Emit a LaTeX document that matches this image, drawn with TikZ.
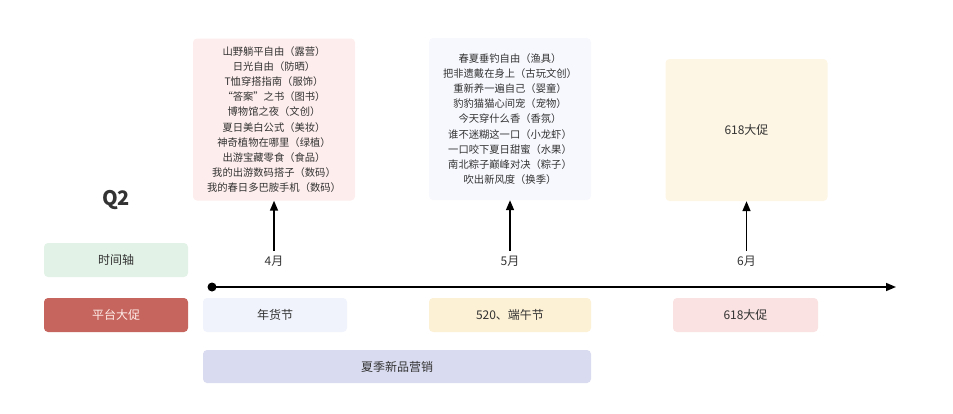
\documentclass[tikz,border=0pt]{standalone}
\usepackage{fontspec}
\setmainfont{Noto Sans CJK SC}
\usetikzlibrary{arrows.meta,positioning}
\definecolor{inkgray}{RGB}{51,51,51}
\definecolor{axisgreen}{RGB}{226,242,230}
\definecolor{promored}{RGB}{197,101,94}
\definecolor{promotext}{RGB}{255,236,232}
\definecolor{festblue}{RGB}{240,243,251}
\definecolor{festcream}{RGB}{253,241,213}
\definecolor{festpink}{RGB}{249,226,225}
\definecolor{summerblue}{RGB}{217,220,240}
\definecolor{aprpink}{RGB}{253,237,236}
\definecolor{maywhite}{RGB}{247,248,254}
\definecolor{junecream}{RGB}{254,246,228}

\begin{document}
\begin{tikzpicture}[
  x=1pt, y=-1pt,
  block/.style={rectangle, rounded corners=4pt, align=center, inner sep=0pt,
    text=inkgray, font=\fontsize{12}{14}\selectfont},
  listbox/.style={block, minimum width=162pt, minimum height=162pt,
    font=\fontsize{10.3}{15.2}\selectfont},
  tag/.style={block, minimum width=144pt, minimum height=34pt},
  month/.style={font=\fontsize{12}{14}\selectfont, text=inkgray, inner sep=1pt,
    minimum height=20pt},
  arrow/.style={-{Triangle[width=8pt,length=10pt]}, line width=1.6pt}
]
  \useasboundingbox (0,0) rectangle (953,413);

  % Activity lists above the timeline.
  \node[listbox, fill=aprpink] (april) at (274,119.5) {山野躺平自由（露营）\\日光自由（防晒）\\T恤穿搭指南（服饰）\\“答案”之书（图书）\\博物馆之夜（文创）\\夏日美白公式（美妆）\\神奇植物在哪里（绿植）\\出游宝藏零食（食品）\\我的出游数码搭子（数码）\\我的春日多巴胺手机（数码）};
  \node[listbox, fill=maywhite] (may) at (510,119) {春夏垂钓自由（渔具）\\把非遗戴在身上（古玩文创）\\重新养一遍自己（婴童）\\豹豹猫猫心间宠（宠物）\\今天穿什么香（香氛）\\谁不迷糊这一口（小龙虾）\\一口咬下夏日甜蜜（水果）\\南北粽子巅峰对决（粽子）\\吹出新风度（换季）};
  \node[listbox, fill=junecream, minimum height=142pt,
    font=\fontsize{12}{14}\selectfont] (june) at (746.5,130) {618大促};

  % Legend on the left.
  \node[font=\fontsize{20}{20}\selectfont\bfseries, text=inkgray] (quarter) at (116,200) {Q2};
  \node[tag, fill=axisgreen] (axis) at (116,260) {时间轴};
  \node[tag, fill=promored, text=promotext] (promo) at (116,315) {平台大促};

  % Months and timeline.
  \node[month] (apr) at (274,261) {4月};
  \node[month] (mayl) at (510,261) {5月};
  \node[month] (jun) at (746.5,261) {6月};
  \coordinate (tstart) at (212,287);
  \coordinate (tend) at (896,287);
  \fill (tstart) circle (4.5);
  \draw[arrow] (tstart) -- (tend);
  \draw[arrow] (apr.north) -- (april.south);
  \draw[arrow] (mayl.north) -- (may.south);
  \draw[arrow] (jun.north) -- (june.south);

  % Promotions below the timeline.
  \node[tag, fill=festblue] (newyear) at (275,315) {年货节};
  \node[tag, fill=festcream, minimum width=162pt] (dragon) at (510,315) {520、端午节};
  \node[tag, fill=festpink, minimum width=145pt] (sale) at (745.5,315) {618大促};
  \node[tag, fill=summerblue, minimum width=388pt, minimum height=33pt] (summer) at (397,366.5) {夏季新品营销};
\end{tikzpicture}
\end{document}
